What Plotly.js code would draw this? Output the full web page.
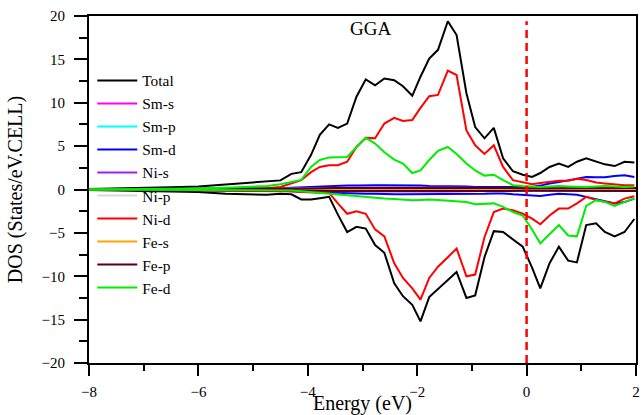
<!DOCTYPE html>
<html>
<head>
<meta charset="utf-8">
<script src="https://cdn.plot.ly/plotly-3.0.1.min.js"></script>
<style>html,body{margin:0;padding:0;background:#fff;}#chart{width:641px;height:415px;}</style>
</head>
<body>
<div id="chart"></div>
<script>
// Energy grid (eV) for the main curves
const energy = [-8.0, -7.5, -7.0, -6.5, -6.0, -5.5, -5.0, -4.75, -4.5, -4.3, -4.12, -3.94, -3.78, -3.61, -3.45, -3.28, -3.11, -2.94, -2.77, -2.6, -2.42, -2.26, -2.09, -1.94, -1.78, -1.62, -1.44, -1.28, -1.1, -0.94, -0.77, -0.6, -0.43, -0.25, -0.07, 0.1, 0.25, 0.42, 0.59, 0.76, 0.92, 1.09, 1.27, 1.43, 1.61, 1.79, 1.97];

const totalUp = [0.05, 0.1, 0.15, 0.25, 0.35, 0.6, 0.85, 0.95, 1.05, 1.8, 2.0, 4.0, 6.3, 7.5, 7.1, 7.6, 10.7, 12.7, 12.0, 12.8, 12.6, 11.9, 10.8, 13.0, 15.1, 16.1, 19.4, 17.8, 11.1, 7.2, 5.9, 7.1, 3.6, 2.1, 1.7, 1.45, 1.9, 2.6, 3.0, 2.6, 3.2, 3.6, 3.2, 2.9, 2.7, 3.2, 3.1];
const totalDn = [-0.05, -0.1, -0.15, -0.2, -0.3, -0.5, -0.6, -0.6, -0.5, -0.55, -1.15, -1.15, -1.0, -0.85, -2.9, -4.9, -4.3, -4.5, -6.4, -7.3, -10.8, -12.3, -13.3, -15.2, -12.4, -11.5, -10.5, -9.5, -12.5, -12.2, -7.8, -4.8, -4.9, -5.8, -6.6, -9.0, -11.4, -8.5, -6.6, -8.2, -8.4, -4.1, -3.9, -4.9, -5.4, -4.9, -3.4];

const niDUp = [0.0, 0.0, 0.02, 0.03, 0.05, 0.08, 0.12, 0.15, 0.3, 0.75, 1.07, 2.0, 2.6, 2.8, 2.8, 3.2, 4.9, 5.95, 5.9, 7.6, 8.25, 7.9, 8.0, 9.4, 10.75, 10.9, 13.7, 13.2, 6.8, 5.1, 4.1, 5.1, 2.6, 1.07, 0.8, 0.6, 0.75, 0.9, 1.0, 1.0, 1.25, 1.1, 0.8, 0.7, 0.6, 0.5, 0.5];
const niDDn = [0.0, -0.02, -0.03, -0.05, -0.06, -0.08, -0.1, -0.12, -0.15, -0.2, -0.3, -0.35, -0.4, -0.4, -1.6, -2.8, -2.5, -2.8, -4.6, -5.4, -8.5, -10.2, -11.4, -12.7, -10.2, -8.9, -7.8, -6.8, -10.0, -9.8, -5.5, -2.6, -2.2, -2.4, -2.8, -3.35, -4.0, -3.0, -2.2, -2.2, -1.6, -0.85, -1.2, -1.4, -1.6, -1.05, -0.77];

const feDUp = [0.0, 0.02, 0.04, 0.08, 0.12, 0.2, 0.3, 0.4, 0.6, 0.9, 1.1, 2.6, 3.4, 3.7, 3.7, 3.75, 4.9, 5.95, 5.3, 4.3, 3.45, 3.0, 1.9, 2.2, 3.4, 4.45, 4.9, 4.1, 3.0, 2.2, 1.6, 1.7, 1.07, 0.5, 0.4, 0.35, 0.3, 0.35, 0.4, 0.35, 0.3, 0.3, 0.35, 0.4, 0.35, 0.3, 0.35];
const feDDn = [0.0, -0.01, -0.02, -0.03, -0.04, -0.05, -0.06, -0.08, -0.1, -0.12, -0.2, -0.3, -0.4, -0.46, -0.55, -0.65, -0.8, -0.9, -1.0, -1.04, -1.1, -1.2, -1.23, -1.2, -1.15, -1.2, -1.3, -1.35, -1.43, -1.7, -1.65, -1.6, -2.0, -2.6, -3.0, -4.6, -6.2, -5.1, -4.1, -5.3, -5.4, -1.9, -1.23, -1.43, -1.9, -1.43, -1.04];

const smDUp = [0.0, 0.01, 0.02, 0.03, 0.05, 0.08, 0.1, 0.12, 0.15, 0.2, 0.25, 0.3, 0.35, 0.4, 0.4, 0.45, 0.45, 0.5, 0.5, 0.5, 0.5, 0.5, 0.45, 0.45, 0.4, 0.4, 0.4, 0.35, 0.35, 0.3, 0.3, 0.3, 0.3, 0.3, 0.25, 0.3, 0.45, 0.7, 0.85, 1.05, 1.25, 1.45, 1.4, 1.4, 1.55, 1.65, 1.45];
const smDDn = [0.0, -0.01, -0.02, -0.03, -0.05, -0.08, -0.1, -0.12, -0.15, -0.2, -0.25, -0.3, -0.35, -0.35, -0.4, -0.45, -0.45, -0.5, -0.5, -0.55, -0.55, -0.55, -0.55, -0.5, -0.5, -0.5, -0.5, -0.55, -0.55, -0.55, -0.5, -0.45, -0.45, -0.55, -0.65, -0.7, -0.75, -0.6, -0.5, -0.55, -0.6, -0.85, -1.1, -1.4, -1.6, -1.45, -1.05];

// Coarse grid for the small contributions
const energyCoarse = [-8, -6, -4.5, -3.5, -2.5, -1.5, -0.5, 0, 0.5, 1, 1.5, 2];
const smSUp = [0, 0.01, 0.03, 0.05, 0.06, 0.05, 0.04, 0.05, 0.06, 0.06, 0.07, 0.07];
const smSDn = [0, -0.01, -0.03, -0.05, -0.06, -0.05, -0.04, -0.05, -0.06, -0.06, -0.07, -0.07];
const smPUp = [0, 0.02, 0.05, 0.1, 0.12, 0.12, 0.1, 0.1, 0.12, 0.15, 0.15, 0.15];
const smPDn = [0, -0.02, -0.05, -0.1, -0.12, -0.12, -0.1, -0.1, -0.12, -0.15, -0.15, -0.15];
const niSUp = [0, 0.03, 0.1, 0.2, 0.25, 0.22, 0.15, 0.12, 0.12, 0.13, 0.13, 0.12];
const niSDn = [0, -0.03, -0.1, -0.2, -0.25, -0.22, -0.15, -0.12, -0.12, -0.13, -0.13, -0.12];
const niPUp = [0, 0.02, 0.08, 0.15, 0.18, 0.15, 0.1, 0.1, 0.12, 0.12, 0.12, 0.12];
const niPDn = [0, -0.02, -0.08, -0.15, -0.18, -0.15, -0.1, -0.1, -0.12, -0.12, -0.12, -0.12];
const feSUp = [0, 0.01, 0.03, 0.05, 0.05, 0.05, 0.04, 0.03, 0.03, 0.03, 0.03, 0.03];
const feSDn = [0, -0.01, -0.03, -0.05, -0.05, -0.05, -0.04, -0.03, -0.03, -0.03, -0.03, -0.03];
const fePUp = [0, 0.03, 0.1, 0.18, 0.2, 0.2, 0.18, 0.15, 0.15, 0.16, 0.16, 0.16];
const fePDn = [0, -0.03, -0.1, -0.18, -0.2, -0.2, -0.18, -0.15, -0.15, -0.16, -0.16, -0.16];

const seriesNames = ["Total", "Sm-s", "Sm-p", "Sm-d", "Ni-s", "Ni-p", "Ni-d", "Fe-s", "Fe-p", "Fe-d"];
const seriesColors = ["#000000", "#ff00ff", "#00ffff", "#0000ff", "#a020f0", "#d9d9d9", "#ff0000", "#ffa500", "#550022", "#00ee00"];
const fermiLevel = [0];
const xTicks = [-8, -6, -4, -2, 0, 2];
const yTicks = [-20, -15, -10, -5, 0, 5, 10, 15, 20];

const seriesData = [
  [energy, totalUp, totalDn],
  [energyCoarse, smSUp, smSDn],
  [energyCoarse, smPUp, smPDn],
  [energy, smDUp, smDDn],
  [energyCoarse, niSUp, niSDn],
  [energyCoarse, niPUp, niPDn],
  [energy, niDUp, niDDn],
  [energyCoarse, feSUp, feSDn],
  [energyCoarse, fePUp, fePDn],
  [energy, feDUp, feDDn]
];

const FONT = "Liberation Serif, Times New Roman, serif";

const traces = seriesNames.map((name, i) => {
  const [ex, up, dn] = seriesData[i];
  return {
    type: "scatter", mode: "lines", name: name,
    x: ex.concat([null], ex),
    y: up.concat([null], dn),
    line: {color: seriesColors[i], width: 2},
    hoverinfo: "skip"
  };
});

const layout = {
  width: 641, height: 415,
  margin: {l: 89, r: 5, t: 16, b: 52},
  paper_bgcolor: "#ffffff", plot_bgcolor: "#ffffff",
  font: {family: FONT, color: "#000", size: 14},
  showlegend: true,
  legend: {
    x: 0.006, y: 0.862, xanchor: "left", yanchor: "top",
    bgcolor: "rgba(0,0,0,0)", borderwidth: 0,
    font: {family: FONT, size: 15.4, color: "#000"},
    itemwidth: 40
  },
  xaxis: {
    range: [-8, 2], tickvals: xTicks, ticks: "outside", ticklen: 11, tickwidth: 2,
    tickcolor: "#000", showline: true, linewidth: 2, linecolor: "#000", mirror: true,
    showgrid: false, zeroline: false, ticklabelstandoff: 3,
    minor: {dtick: 1, ticks: "outside", ticklen: 6, tickwidth: 2, tickcolor: "#000", showgrid: false},
    tickfont: {family: FONT, size: 15, color: "#000"},
    title: {text: "Energy (eV)", font: {family: FONT, size: 20, color: "#000"}, standoff: 0}
  },
  yaxis: {
    range: [-20, 20], tickvals: yTicks, ticks: "outside", ticklen: 13, tickwidth: 2,
    tickcolor: "#000", showline: true, linewidth: 2, linecolor: "#000", mirror: true,
    showgrid: false, zeroline: false, ticklabelstandoff: 6,
    minor: {dtick: 2.5, ticks: "outside", ticklen: 8, tickwidth: 2, tickcolor: "#000", showgrid: false},
    tickfont: {family: FONT, size: 15, color: "#000"},
    title: {text: "DOS (States/eV.CELL)", font: {family: FONT, size: 20, color: "#000"}, standoff: 14}
  },
  shapes: [{
    type: "line", xref: "x", yref: "y",
    x0: fermiLevel[0], x1: fermiLevel[0], y0: -20, y1: 19.4,
    line: {color: "#ff0000", width: 2.5, dash: "8px,5px"}
  }],
  annotations: [{
    text: "GGA", xref: "x", yref: "paper", x: -2.85, y: 0.965,
    xanchor: "center", yanchor: "middle", showarrow: false,
    font: {family: FONT, size: 19, color: "#000"}
  }]
};

Plotly.newPlot("chart", traces, layout, {displayModeBar: false, staticPlot: true});
</script>
</body>
</html>
